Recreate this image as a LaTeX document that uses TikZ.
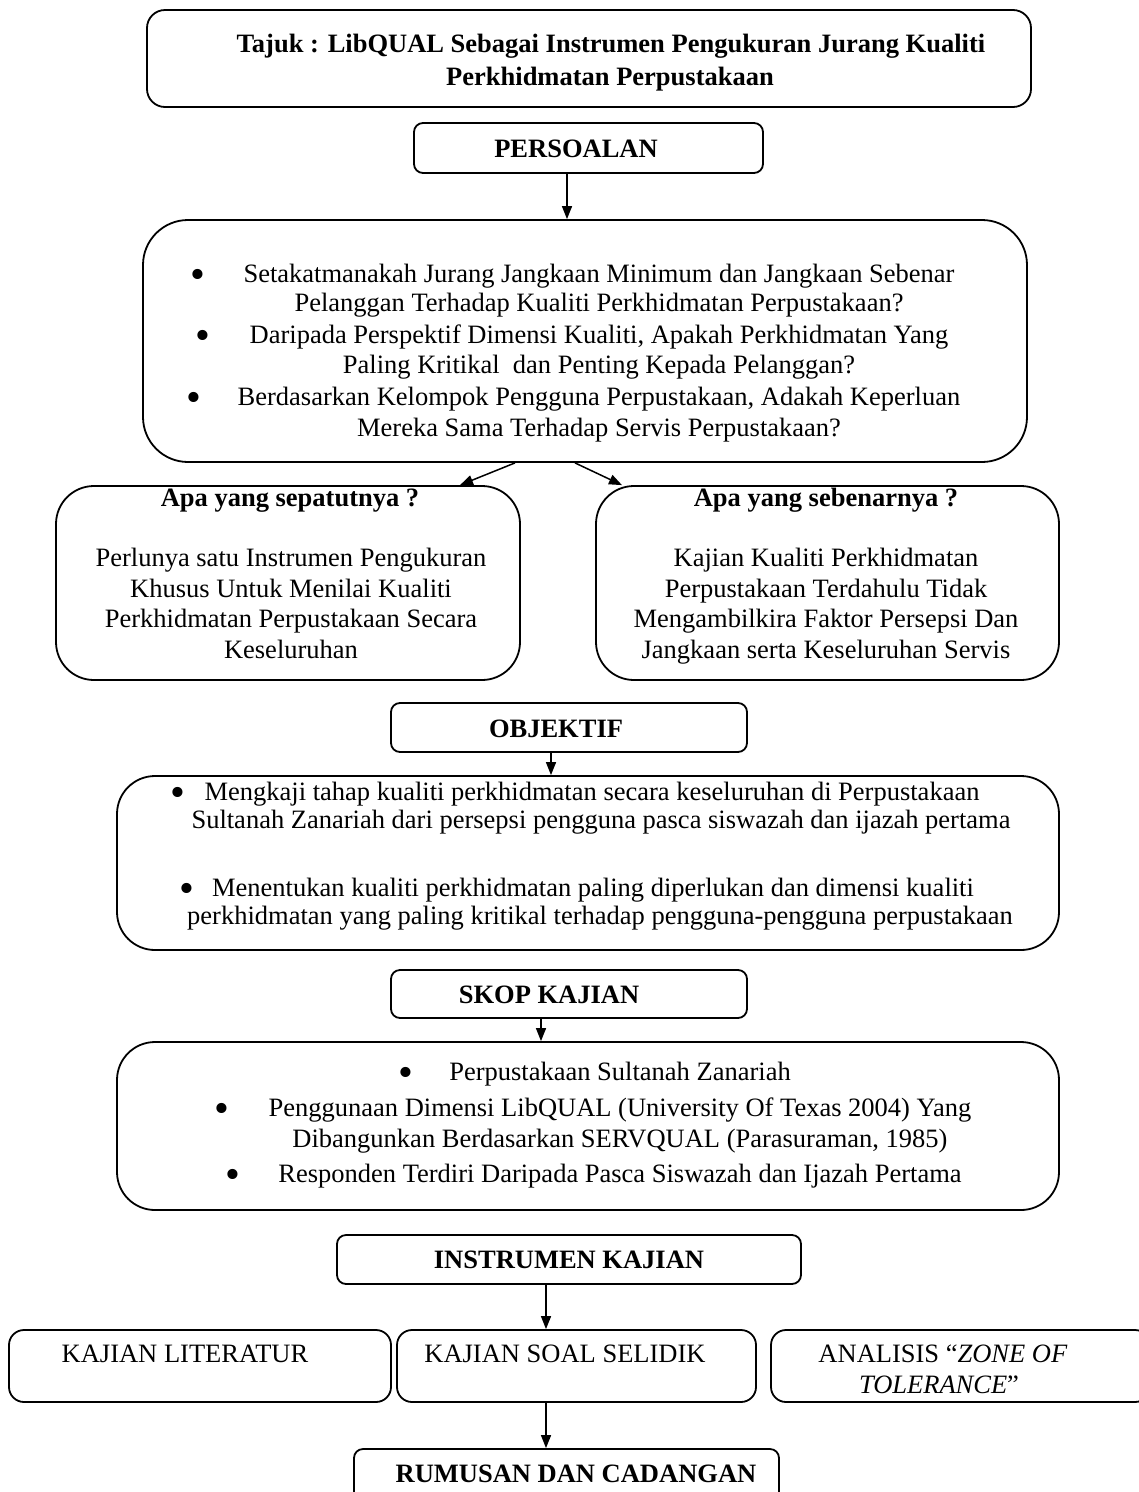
\documentclass[tikz,border=0pt]{standalone}
\usepackage{fontspec}
\setmainfont{Liberation Serif}
\usetikzlibrary{arrows.meta,calc}
\newcommand{\bigbul}{\raisebox{-6pt}{\scalebox{1.6}{\textbullet}}}
\tikzset{
  bx/.style={draw, line width=1.8pt, inner sep=0pt, rectangle},
  tx/.style={anchor=base, inner sep=0pt, font=\fontsize{26.5}{30}\selectfont},
  tb/.style={anchor=base, inner sep=0pt, font=\fontsize{26.5}{30}\selectfont\bfseries},
  arr/.style={-{Triangle[length=13pt,width=10pt]}, line width=1.5pt},
}
\begin{document}
\begin{tikzpicture}[x=1pt,y=-1pt]
\useasboundingbox (0,0) rectangle (1139,1492);
\clip (0,0) rectangle (1139,1492);

% boxes
\node[bx, rounded corners=18pt, minimum width=884pt, minimum height=97pt] (title) at (589,58.5) {};
\node[bx, rounded corners=9pt, minimum width=349pt, minimum height=50pt] (pers) at (588.5,148) {};
\node[bx, rounded corners=45pt, minimum width=884pt, minimum height=242pt] (q) at (585,341) {};
\node[bx, rounded corners=38pt, minimum width=464pt, minimum height=194pt] (lb) at (288,583) {};
\node[bx, rounded corners=38pt, minimum width=463pt, minimum height=194pt] (rb) at (827.5,583) {};
\node[bx, rounded corners=9pt, minimum width=356pt, minimum height=49pt] (objh) at (569,727.5) {};
\node[bx, rounded corners=38pt, minimum width=942pt, minimum height=174pt] (obj) at (588,863) {};
\node[bx, rounded corners=9pt, minimum width=356pt, minimum height=48pt] (skoph) at (569,994) {};
\node[bx, rounded corners=38pt, minimum width=942pt, minimum height=168pt] (skop) at (588,1126) {};
\node[bx, rounded corners=9pt, minimum width=464pt, minimum height=49pt] (inst) at (569,1259.5) {};
\node[bx, rounded corners=15pt, minimum width=382pt, minimum height=72pt] (lit) at (200,1366) {};
\node[bx, rounded corners=15pt, minimum width=359pt, minimum height=72pt] (soal) at (576.5,1366) {};
\node[bx, rounded corners=15pt, minimum width=379pt, minimum height=72pt] (zone) at (960.5,1366) {};
\node[bx, rounded corners=9pt, minimum width=425pt, minimum height=61pt] (rum) at (566.5,1479.5) {};

% arrow positions
\coordinate (a1) at (567,0);
\coordinate (d1s) at (515,0);
\coordinate (d1e) at (460,0);
\coordinate (d2s) at (575,0);
\coordinate (d2e) at (622,0);
\coordinate (a3) at (551,0);
\coordinate (a4) at (541,0);
\coordinate (a5) at (546,0);

\draw[arr] (pers.south -| a1) -- (q.north -| a1);
\draw[arr] (q.south -| d1s) -- (lb.north -| d1e);
\draw[arr] (q.south -| d2s) -- (rb.north -| d2e);
\draw[arr] (objh.south -| a3) -- (obj.north -| a3);
\draw[arr] (skoph.south -| a4) -- (skop.north -| a4);
\draw[arr] (inst.south -| a5) -- (soal.north -| a5);
\draw[arr] (soal.south -| a5) -- (rum.north -| a5);

% title
\node[tb] (t1) at (611,52) {Tajuk : LibQUAL Sebagai Instrumen Pengukuran Jurang Kualiti};
\node[tb] (t2) at (610,85) {Perkhidmatan Perpustakaan};
\node[tb] (persT) at (576,157) {PERSOALAN};

% questions
\node[tx] (q1) at (599,282) {Setakatmanakah Jurang Jangkaan Minimum dan Jangkaan Sebenar};
\node[tx] (q2) at (599,311) {Pelanggan Terhadap Kualiti Perkhidmatan Perpustakaan?};
\node[tx] (q3) at (599,343) {Daripada Perspektif Dimensi Kualiti, Apakah Perkhidmatan Yang};
\node[tx] (q4) at (599,373) {Paling Kritikal\ \ dan Penting Kepada Pelanggan?};
\node[tx] (q5) at (599,405) {Berdasarkan Kelompok Pengguna Perpustakaan, Adakah Keperluan};
\node[tx] (q6) at (599,436) {Mereka Sama Terhadap Servis Perpustakaan?};
\node[tx] (qb1) at (198,282) {\bigbul};
\node[tx] (qb2) at (203,343) {\bigbul};
\node[tx] (qb3) at (194,405) {\bigbul};

% left / right boxes
\node[tb] (lh) at (290,506) {Apa yang sepatutnya ?};
\node[tx] (l1) at (291,566) {Perlunya satu Instrumen Pengukuran};
\node[tx] (l2) at (291,597) {Khusus Untuk Menilai Kualiti};
\node[tx] (l3) at (291,627) {Perkhidmatan Perpustakaan Secara};
\node[tx] (l4) at (291,658) {Keseluruhan};
\node[tb] (rh) at (826,506) {Apa yang sebenarnya ?};
\node[tx] (r1) at (826,566) {Kajian Kualiti Perkhidmatan};
\node[tx] (r2) at (826,597) {Perpustakaan Terdahulu Tidak};
\node[tx] (r3) at (826,627) {Mengambilkira Faktor Persepsi Dan};
\node[tx] (r4) at (826,658) {Jangkaan serta Keseluruhan Servis};

% objektif
\node[tb] (objT) at (556,737) {OBJEKTIF};
\node[tx] (o1) at (592,800) {Mengkaji tahap kualiti perkhidmatan secara keseluruhan di Perpustakaan};
\node[tx] (o2) at (601,828) {Sultanah Zanariah dari persepsi pengguna pasca siswazah dan ijazah pertama};
\node[tx] (o3) at (593,896) {Menentukan kualiti perkhidmatan paling diperlukan dan dimensi kualiti};
\node[tx] (o4) at (600,924) {perkhidmatan yang paling kritikal terhadap pengguna-pengguna perpustakaan};
\node[tx] (ob1) at (178,800) {\bigbul};
\node[tx] (ob2) at (187,896) {\bigbul};

% skop
\node[tb] (skopT) at (549,1003) {SKOP KAJIAN};
\node[tx] (s1) at (620,1080) {Perpustakaan Sultanah Zanariah};
\node[tx] (s2) at (620,1116) {Penggunaan Dimensi LibQUAL (University Of Texas 2004) Yang};
\node[tx] (s3) at (620,1147) {Dibangunkan Berdasarkan SERVQUAL (Parasuraman, 1985)};
\node[tx] (s4) at (620,1182) {Responden Terdiri Daripada Pasca Siswazah dan Ijazah Pertama};
\node[tx] (sb1) at (406,1080) {\bigbul};
\node[tx] (sb2) at (222,1116) {\bigbul};
\node[tx] (sb3) at (233,1182) {\bigbul};

% instrumen
\node[tb] (instT) at (569,1268) {INSTRUMEN KAJIAN};
\node[tx] (litT) at (185,1362) {KAJIAN LITERATUR};
\node[tx] (soalT) at (565,1362) {KAJIAN SOAL SELIDIK};
\node[tx] (zone1) at (943,1362) {ANALISIS “\textit{ZONE OF}};
\node[tx] (zone2) at (939,1393) {\textit{TOLERANCE}”};
\node[tb] (rumT) at (576,1482) {RUMUSAN DAN CADANGAN};
\end{tikzpicture}
\end{document}
